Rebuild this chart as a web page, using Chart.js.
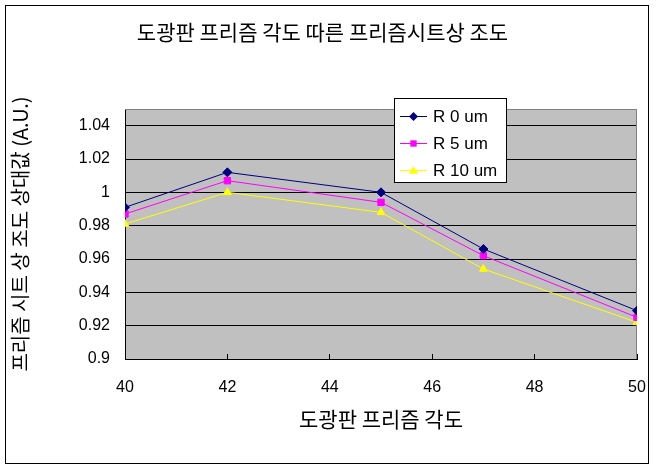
<!DOCTYPE html>
<html>
<head>
<meta charset="utf-8">
<script src="https://cdn.jsdelivr.net/npm/chart.js@4/dist/chart.umd.min.js"></script>
<style>
  body { margin: 0; background: #fff; }
  #wrap { width: 657px; height: 471px; position: relative; }
</style>
</head>
<body>
<div id="wrap"><canvas id="lumChart"></canvas></div>
<script>
// donnees
const angles = [40, 42, 45, 47, 50];
const r0 = [0.991, 1.012, 1.000, 0.966, 0.929];
const r5 = [0.987, 1.007, 0.994, 0.962, 0.925];
const r10 = [0.981, 1.000, 0.988, 0.954, 0.922];
const seriesNames = ['R 0 um', 'R 5 um', 'R 10 um'];
const xTicks = [40, 42, 44, 46, 48, 50];
const yTicks = [0.9, 0.92, 0.94, 0.96, 0.98, 1, 1.02, 1.04];
const chartTitle = '도광판 프리즘 각도 따른 프리즘시트상 조도';
const xTitle = '도광판 프리즘 각도';
const yTitle = '프리즘 시트 상 조도 상대값 (A.U.)';

const KR = "'Noto Sans CJK KR', sans-serif";
const LAT = "'Liberation Sans', Arial, sans-serif";

function toPoints(values) {
    return angles.map((a, i) => ({ x: a, y: values[i] }));
}

function drawMarker(ctx, style, x, y, r, color) {
    ctx.save();
    ctx.fillStyle = color;
    ctx.beginPath();
    if (style === 'rectRot') {
        ctx.moveTo(x, y - r);
        ctx.lineTo(x + r, y);
        ctx.lineTo(x, y + r);
        ctx.lineTo(x - r, y);
    } else if (style === 'rect') {
        const s = r * Math.SQRT1_2;
        ctx.rect(x - s, y - s, 2 * s, 2 * s);
    } else {
        ctx.moveTo(x, y - r);
        ctx.lineTo(x + r, y + r * 0.7);
        ctx.lineTo(x - r, y + r * 0.7);
    }
    ctx.closePath();
    ctx.fill();
    ctx.restore();
}

// fond gris de la zone de tracé + cadre exterieur
const plotBg = {
    id: 'plotBg',
    beforeDraw(chart) {
        const { ctx, chartArea: a } = chart;
        ctx.save();
        ctx.fillStyle = '#c0c0c0';
        ctx.fillRect(a.left, a.top, a.right - a.left, a.bottom - a.top);
        ctx.restore();
    },
    beforeDatasetsDraw(chart) {
        const { ctx, chartArea: a } = chart;
        ctx.save();
        ctx.strokeStyle = '#808080';
        ctx.lineWidth = 1;
        ctx.beginPath();
        ctx.moveTo(a.left, a.top + 0.5);
        ctx.lineTo(a.right - 0.5, a.top + 0.5);
        ctx.lineTo(a.right - 0.5, a.bottom);
        ctx.stroke();
        ctx.restore();
    },
    afterDraw(chart) {
        const ctx = chart.ctx;
        ctx.save();
        ctx.strokeStyle = '#000';
        ctx.lineWidth = 1;
        ctx.strokeRect(5.5, 5.5, 643, 458);
        ctx.restore();
    }
};

// legende encadrée dans la zone de tracé
const boxLegend = {
    id: 'boxLegend',
    afterDraw(chart) {
        const ctx = chart.ctx;
        const left = 394, top = 98, w = 112, h = 84;
        ctx.save();
        ctx.fillStyle = '#fff';
        ctx.fillRect(left, top, w, h);
        ctx.strokeStyle = '#000';
        ctx.lineWidth = 1;
        ctx.strokeRect(left + 0.5, top + 0.5, w, h);
        ctx.font = '17px ' + LAT;
        ctx.textBaseline = 'middle';
        chart.data.datasets.forEach((ds, i) => {
            const y = top + 18 + i * 27;
            ctx.strokeStyle = ds.borderColor;
            ctx.beginPath();
            ctx.moveTo(left + 6, y + 0.5);
            ctx.lineTo(left + 33, y + 0.5);
            ctx.stroke();
            drawMarker(ctx, ds.pointStyle, left + 19.5, y + 0.5, 4.5, ds.borderColor);
            ctx.fillStyle = '#000';
            ctx.fillText(ds.label, left + 39, y + 1);
        });
        ctx.restore();
    }
};

function createLineChart() {
    const ctx = document.getElementById('lumChart').getContext('2d');
    const colors = ['#000080', '#ff00ff', '#ffff00'];
    const styles = ['rectRot', 'rect', 'triangle'];
    const series = [r0, r5, r10];

    window.lumChart = new Chart(ctx, {
        type: 'line',
        data: {
            datasets: series.map((values, i) => ({
                label: seriesNames[i],
                data: toPoints(values),
                borderColor: colors[i],
                backgroundColor: colors[i],
                borderWidth: 1,
                pointStyle: styles[i],
                pointRadius: 4.5,
                pointBorderWidth: 1,
                tension: 0,
            })),
        },
        options: {
            responsive: true,
            maintainAspectRatio: false,
            animation: false,
            layout: { padding: { left: 8, right: 20, top: 0, bottom: 0 } },
            plugins: {
                legend: { display: false },
                tooltip: { enabled: false },
                title: {
                    display: true,
                    text: chartTitle,
                    color: '#000',
                    font: { family: KR, size: 21, weight: 'normal', lineHeight: 1.2 },
                    padding: { top: 19.4, bottom: 64.4 },
                },
            },
            scales: {
                x: {
                    type: 'linear',
                    min: 40,
                    max: 50,
                    afterBuildTicks: scale => { scale.ticks = xTicks.map(v => ({ value: v })); },
                    afterFit: scale => {
                        scale.height = 112;
                        scale.paddingLeft = 0;
                        scale.paddingRight = 0;
                    },
                    grid: { drawOnChartArea: false, drawTicks: true, tickLength: -5, color: '#000' },
                    border: { color: '#000', width: 1 },
                    ticks: {
                        color: '#000',
                        padding: 24,
                        font: { family: LAT, size: 16 },
                        callback: v => String(v),
                    },
                    title: {
                        display: true,
                        text: xTitle,
                        color: '#000',
                        font: { family: KR, size: 21, lineHeight: 1.2 },
                        padding: { top: 0, bottom: 39.4 },
                    },
                },
                y: {
                    min: 0.9,
                    max: 1.05,
                    afterBuildTicks: scale => { scale.ticks = yTicks.map(v => ({ value: v })); },
                    afterFit: scale => { scale.width = 117; },
                    grid: { color: '#000', lineWidth: 1, drawTicks: false },
                    border: { color: '#000', width: 1 },
                    ticks: {
                        color: '#000',
                        padding: 15,
                        font: { family: LAT, size: 16 },
                        callback: v => String(v),
                    },
                    title: {
                        display: true,
                        text: yTitle,
                        color: '#000',
                        font: { family: KR, size: 20, lineHeight: 1.2 },
                        padding: { top: 0, bottom: 0 },
                    },
                },
            },
        },
        plugins: [plotBg, boxLegend],
    });
}

createLineChart();
</script>
</body>
</html>
